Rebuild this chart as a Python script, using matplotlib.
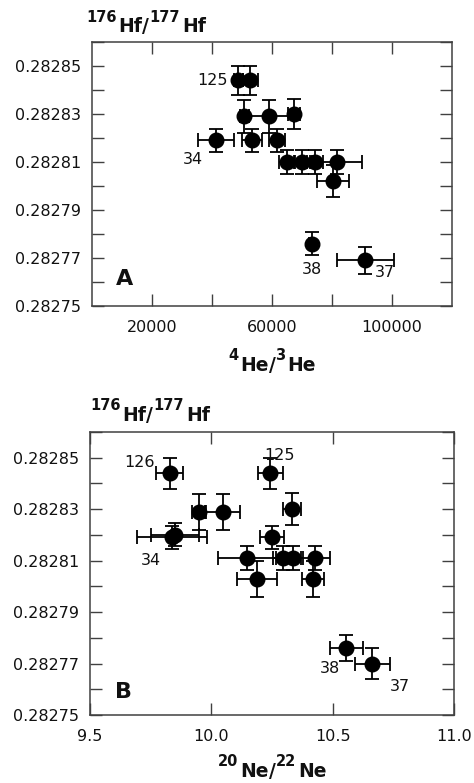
import matplotlib
matplotlib.use('Agg')
from matplotlib import pyplot as plt
from matplotlib.ticker import FixedLocator, FormatStrFormatter, MultipleLocator
from matplotlib.font_manager import FontProperties

# Panel A: 176Hf/177Hf vs 4He/3He
he_ratio = [48770, 52670, 50670, 59100, 67330, 41330, 53230, 61570,
            65100, 69900, 74330, 81570, 80230, 73230, 91000]
he_err = [1500, 2500, 1500, 8300, 2000, 6100, 3300, 2700,
          2700, 2700, 2700, 8300, 5300, 800, 9500]
hf_a = [0.282844, 0.282844, 0.282829, 0.282829, 0.282830, 0.282819, 0.282819, 0.282819,
        0.282810, 0.282810, 0.282810, 0.282810, 0.282802, 0.282776, 0.282769]
hf_a_err = [0.0000060, 0.0000060, 0.0000068, 0.0000068, 0.0000062, 0.0000047, 0.0000047, 0.0000047,
            0.0000050, 0.0000050, 0.0000050, 0.0000050, 0.0000066, 0.0000049, 0.0000057]
labels_a = ['125', '34', '38', '37']
labels_a_pos = [(45100, 0.282844), (33670, 0.282811), (73230, 0.282765), (97660, 0.282764)]
labels_a_ha = ['right', 'center', 'center', 'center']

# Panel B: 176Hf/177Hf vs 20Ne/22Ne
ne_ratio = [9.829, 10.243, 9.950, 10.047, 10.332, 9.838, 9.850, 10.249,
            10.146, 10.295, 10.336, 10.428, 10.187, 10.419, 10.556, 10.664]
ne_err = [0.055, 0.052, 0.030, 0.073, 0.036, 0.143, 0.100, 0.050,
          0.120, 0.040, 0.040, 0.060, 0.083, 0.045, 0.067, 0.074]
hf_b = [0.282844, 0.282844, 0.282829, 0.282829, 0.282830, 0.282819, 0.282820, 0.282819,
        0.282811, 0.282811, 0.282811, 0.282811, 0.282803, 0.282803, 0.282776, 0.282770]
hf_b_err = [0.0000060, 0.0000060, 0.0000070, 0.0000070, 0.0000062, 0.0000045, 0.0000045, 0.0000045,
            0.0000047, 0.0000047, 0.0000047, 0.0000047, 0.0000070, 0.0000070, 0.0000050, 0.0000060]
labels_b = ['126', '125', '34', '38', '37']
labels_b_pos = [(9.702, 0.282848), (10.281, 0.282851), (9.751, 0.282810), (10.488, 0.282768), (10.777, 0.282761)]

hf_ticks = [0.28275, 0.28277, 0.28279, 0.28281, 0.28283, 0.28285]

W, H = 474, 783
fig = plt.figure(figsize=(W / 100, H / 100), dpi=100)
axA = fig.add_axes([92 / W, 1 - 306 / H, 360 / W, 264 / H])
axB = fig.add_axes([90 / W, 1 - 715 / H, 364 / W, 283 / H])

ink = '#111111'
for ax, xs, xe, ys, ye in [(axA, he_ratio, he_err, hf_a, hf_a_err),
                           (axB, ne_ratio, ne_err, hf_b, hf_b_err)]:
    ax.errorbar(xs, ys, xerr=xe, yerr=ye, fmt='o', color='black', ms=10.5,
                ecolor='black', elinewidth=1.3, capsize=5, capthick=1.3)
    ax.set_ylim(0.28275, 0.28286)
    ax.yaxis.set_major_locator(FixedLocator(hf_ticks))
    ax.yaxis.set_minor_locator(MultipleLocator(0.00001))
    ax.yaxis.set_major_formatter(FormatStrFormatter('%.5f'))
    ax.tick_params(which='both', direction='in', length=8.5, width=1.0, color='0.25',
                   top=True, right=True, labelsize=11.5, labelcolor=ink)
    ax.tick_params(axis='y', which='both', pad=8)
    ax.tick_params(axis='x', which='both', pad=10)
    for sp in ax.spines.values():
        sp.set_linewidth(1.1)
        sp.set_color('0.25')

axA.set_xlim(0, 120000)
axA.xaxis.set_major_locator(FixedLocator([20000, 60000, 100000]))
axA.xaxis.set_minor_locator(FixedLocator([40000, 80000]))
axA.xaxis.set_major_formatter(FormatStrFormatter('%d'))

axB.set_xlim(9.5, 11.0)
axB.xaxis.set_major_locator(FixedLocator([9.5, 10.0, 10.5, 11.0]))
axB.xaxis.set_major_formatter(FormatStrFormatter('%.1f'))

for s, (x, y), ha in zip(labels_a, labels_a_pos, labels_a_ha):
    axA.text(x, y, s, fontsize=11.5, ha=ha, va='center', color=ink)
for s, (x, y) in zip(labels_b, labels_b_pos):
    axB.text(x, y, s, fontsize=11.5, ha='center', va='center', color=ink)

axA.text(0.065, 0.08, 'A', transform=axA.transAxes, fontsize=16, fontweight='bold', color=ink)
axB.text(0.068, 0.06, 'B', transform=axB.transAxes, fontsize=16, fontweight='bold', color=ink)

# isotope labels: raised small mass numbers followed by element symbol
renderer = fig.canvas.get_renderer()


def iso_label(x0, base, parts, centre=False):
    props = []
    total = 0
    for s, size, rise in parts:
        fp = FontProperties(family='DejaVu Sans', weight='bold', size=size)
        w, h, d = renderer.get_text_width_height_descent(s, fp, ismath=False)
        step = w + (2 if rise else 0)
        props.append((s, fp, rise, step))
        total += step
    x = x0 - total / 2 if centre else x0
    for s, fp, rise, step in props:
        fig.text(x / W, 1 - (base - rise) / H, s, fontproperties=fp,
                 va='baseline', ha='left', color=ink)
        x += step


big, small, up = 13.5, 10.5, 10.5
hf_parts = [('176', small, up), ('Hf', big, 0), ('/', big, 0), ('177', small, up), ('Hf', big, 0)]
iso_label(86, 32, hf_parts)
iso_label(90, 421, hf_parts)
iso_label(272, 371, [('4', small, up), ('He', big, 0), ('/', big, 0), ('3', small, up), ('He', big, 0)], centre=True)
iso_label(272, 777, [('20', small, up), ('Ne', big, 0), ('/', big, 0), ('22', small, up), ('Ne', big, 0)], centre=True)

fig.savefig('out.png', dpi=100)
